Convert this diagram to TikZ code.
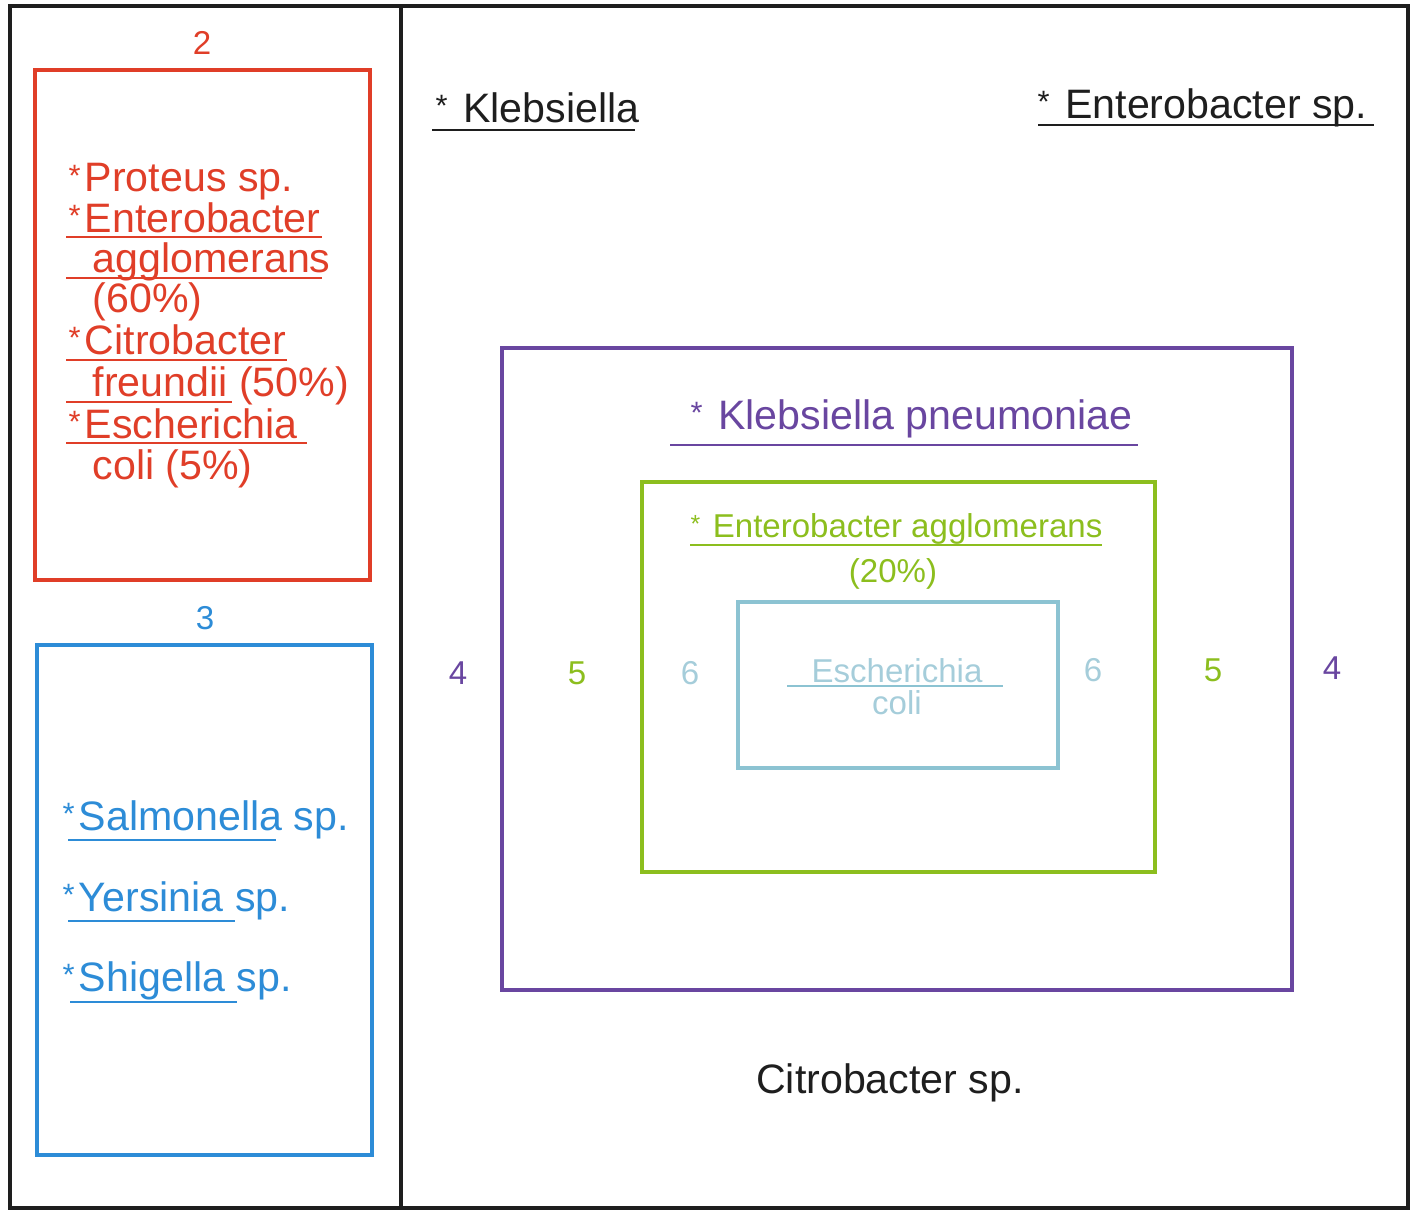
\documentclass[tikz,border=0pt]{standalone}
\usepackage{fontspec}
\setmainfont{Liberation Sans}
\usepackage{tikz}
\usetikzlibrary{arrows}

\definecolor{grpred}{RGB}{224,62,40}
\definecolor{grpblue}{RGB}{45,140,215}
\definecolor{grppurple}{RGB}{105,70,160}
\definecolor{grpgreen}{RGB}{140,190,30}
\definecolor{grpteal}{RGB}{140,195,210}
\definecolor{grptealtxt}{RGB}{165,205,218}
\definecolor{grpink}{RGB}{30,30,30}

\newcommand{\mk}{\raisebox{0.25ex}{\scalebox{0.75}{*}}\kern0.1em}

\begin{document}
\begin{tikzpicture}[x=0.01cm, y=-0.01cm,
    every node/.style={inner sep=0pt},
    big/.style={font=\fontsize{11.7}{11.7}\selectfont},
    small/.style={font=\fontsize{9.4}{9.4}\selectfont},
    frame/.style={line width=1.15pt},
    uline/.style={line width=0.6pt}]
            \useasboundingbox (0,0) rectangle (1414,1212);

            % outer frame and divider
            \draw[frame, grpink] (10,6) rectangle (1408,1208);
            \draw[frame, grpink] (401,6) -- (401,1208);

            % group 2
            \node[small, grpred] (n2) at (202,43) {2};
            \draw[frame, grpred] (35,70) rectangle (370,580);
            \begin{scope}[grpred]
            \node[big, anchor=base west] (prot) at (68,192) {\mk Proteus sp.};
            \node[big, anchor=base west] (entA) at (68,232) {\mk Enterobacter};
            \node[big, anchor=base west] (entB) at (92,272) {agglomerans};
            \node[big, anchor=base west] (entC) at (92,312) {(60\%)};
            \node[big, anchor=base west] (citA) at (68,354) {\mk Citrobacter};
            \node[big, anchor=base west] (citB) at (92,396) {freundii (50\%)};
            \node[big, anchor=base west] (escA) at (68,438) {\mk Escherichia};
            \node[big, anchor=base west] (escB) at (92,479) {coli (5\%)};
            \draw[uline] (66,237) -- (322,237);
            \draw[uline] (66,278) -- (322,278);
            \draw[uline] (66,360) -- (287,360);
            \draw[uline] (66,402) -- (232,402);
            \draw[uline] (66,443) -- (307,443);
            \end{scope}

            % group 3
            \node[small, grpblue] (n3) at (205,618) {3};
            \draw[frame, grpblue] (37,645) rectangle (372,1155);
            \begin{scope}[grpblue]
            \node[big, anchor=base west] (salm) at (62,830) {\mk Salmonella sp.};
            \node[big, anchor=base west] (yers) at (62,911) {\mk Yersinia sp.};
            \node[big, anchor=base west] (shig) at (62,991) {\mk Shigella sp.};
            \draw[uline] (68,840) -- (276,840);
            \draw[uline] (68,921) -- (235,921);
            \draw[uline] (70,1002) -- (237,1002);
            \end{scope}

            % right panel
            \node[big, grpink, anchor=base west] (kleb) at (435,122) {\mk\ Klebsiella};
            \draw[uline, grpink, line width=0.85pt] (432,130) -- (635,130);
            \node[big, grpink, anchor=base west] (ents) at (1037,118) {\mk\ Enterobacter sp.};
            \draw[uline, grpink, line width=0.85pt] (1038,125) -- (1374,125);

            \draw[frame, grppurple] (502,348) rectangle (1292,990);
            \node[big, grppurple, anchor=base west] (klpn) at (690,429) {\mk\ Klebsiella pneumoniae};
            \draw[uline, grppurple] (670,445) -- (1138,445);

            \draw[frame, grpgreen] (642,482) rectangle (1155,872);
            \node[small, grpgreen, anchor=base west] (enag) at (690,537) {\mk\ Enterobacter agglomerans};
            \draw[uline, grpgreen] (690,545) -- (1102,545);
            \node[small, grpgreen, anchor=base] (pc20) at (893,582) {(20\%)};

            \draw[line width=0.9pt, grpteal] (738,602) rectangle (1058,768);
            \node[small, grptealtxt, anchor=base] (ecoA) at (897,682) {Escherichia};
            \draw[uline, grpteal] (787,686) -- (1003,686);
            \node[small, grptealtxt, anchor=base] (ecoB) at (897,714) {coli};

            % ring numbers
            \node[small, grppurple] (l4) at (458,673) {4};
            \node[small, grppurple] (r4) at (1332,668) {4};
            \node[small, grpgreen] (l5) at (577,673) {5};
            \node[small, grpgreen] (r5) at (1213,670) {5};
            \node[small, grptealtxt] (l6) at (690,673) {6};
            \node[small, grptealtxt] (r6) at (1093,670) {6};

            \node[big, grpink, anchor=base] (citr) at (890,1093) {Citrobacter sp.};
        \end{tikzpicture}
\end{document}
